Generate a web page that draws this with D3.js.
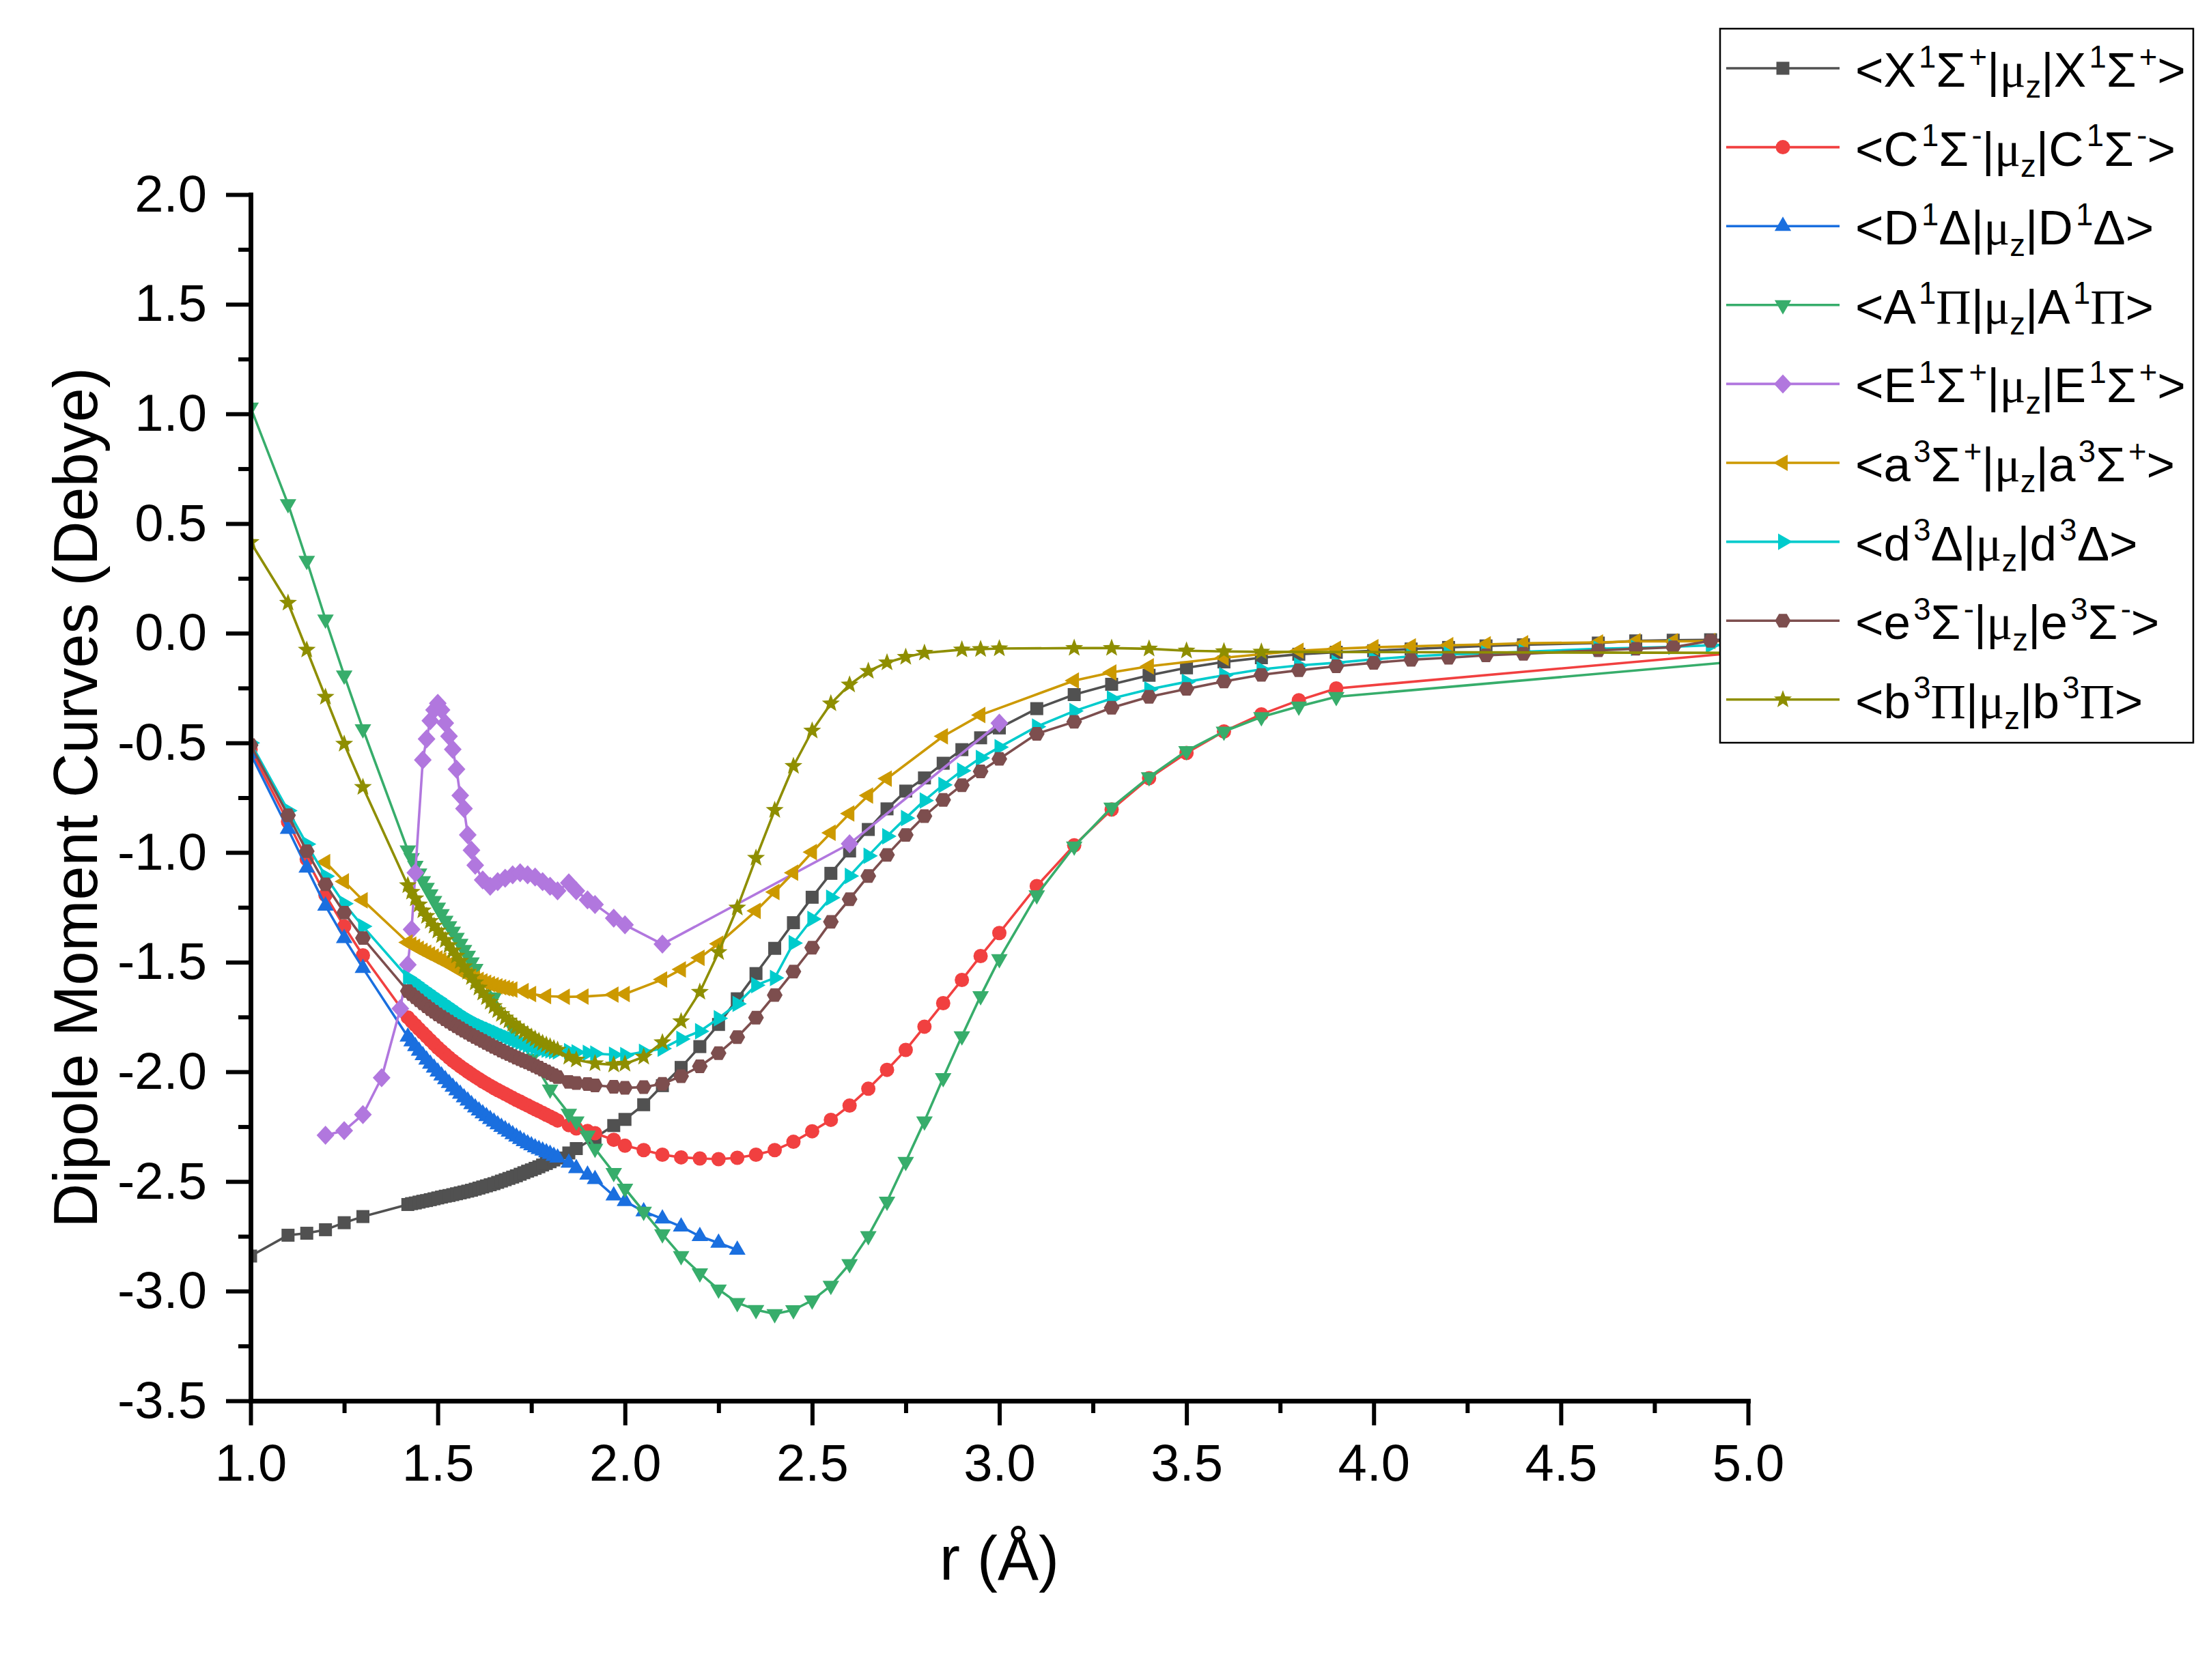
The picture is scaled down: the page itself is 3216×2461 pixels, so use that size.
<!DOCTYPE html>
<html><head><meta charset="utf-8">
<script src="https://cdn.jsdelivr.net/npm/d3@7"></script>
<style>body{margin:0;background:#fff}svg{display:block}</style>
</head><body>
<script>
// ---------------- DATA ----------------
const xTicks = [1.0,1.5,2.0,2.5,3.0,3.5,4.0,4.5,5.0];
const yTicks = [-3.5,-3.0,-2.5,-2.0,-1.5,-1.0,-0.5,0.0,0.5,1.0,1.5,2.0];

const X1Sp = [[1.0,-2.84],[1.1,-2.745],[1.15,-2.736],[1.2,-2.72],[1.25,-2.688],[1.3,-2.66],
[1.42,-2.605],[1.43,-2.601],[1.44,-2.598],[1.45,-2.594],[1.46,-2.59],[1.47,-2.587],[1.48,-2.583],[1.49,-2.579],[1.5,-2.575],[1.51,-2.571],[1.52,-2.567],[1.53,-2.564],[1.54,-2.56],[1.55,-2.556],[1.56,-2.552],[1.57,-2.548],[1.58,-2.544],[1.59,-2.54],[1.6,-2.535],[1.61,-2.53],[1.62,-2.525],[1.63,-2.52],[1.64,-2.515],[1.65,-2.51],[1.66,-2.504],[1.67,-2.498],[1.68,-2.492],[1.69,-2.486],[1.7,-2.48],[1.71,-2.474],[1.72,-2.467],[1.73,-2.46],[1.74,-2.453],[1.75,-2.447],[1.76,-2.44],[1.77,-2.433],[1.78,-2.425],[1.79,-2.418],[1.8,-2.41],[1.81,-2.402],[1.82,-2.393],
[1.85,-2.37],[1.87,-2.35],[1.92,-2.3],[1.97,-2.245],[2.0,-2.217],[2.05,-2.15],[2.1,-2.063],[2.15,-1.98],[2.2,-1.885],[2.25,-1.784],[2.3,-1.667],[2.35,-1.552],[2.4,-1.437],[2.45,-1.32],[2.5,-1.204],[2.55,-1.095],[2.6,-0.993],[2.65,-0.895],[2.7,-0.801],[2.75,-0.72],[2.8,-0.66],[2.85,-0.593],[2.9,-0.531],[2.95,-0.477],[3.0,-0.432],[3.1,-0.344],[3.2,-0.28],[3.3,-0.233],[3.4,-0.192],[3.5,-0.158],[3.6,-0.131],[3.7,-0.112],[3.8,-0.096],[3.9,-0.087],[4.0,-0.08],[4.1,-0.072],[4.2,-0.065],[4.3,-0.058],[4.4,-0.053],[4.6,-0.045],[4.7,-0.035],[4.8,-0.032],[4.9,-0.03],[5.0,-0.03]];

const C1Sm = [[1.0,-0.53],[1.1,-0.86],[1.15,-1.03],[1.2,-1.194],[1.25,-1.337],[1.3,-1.469],
[1.42,-1.752],[1.43,-1.77],[1.44,-1.787],[1.45,-1.805],[1.46,-1.822],[1.47,-1.839],[1.48,-1.856],[1.49,-1.873],[1.5,-1.89],[1.51,-1.905],[1.52,-1.92],[1.53,-1.935],[1.54,-1.949],[1.55,-1.962],[1.56,-1.975],[1.57,-1.987],[1.58,-1.999],[1.59,-2.011],[1.6,-2.022],[1.61,-2.033],[1.62,-2.044],[1.63,-2.054],[1.64,-2.064],[1.65,-2.074],[1.66,-2.083],[1.67,-2.092],[1.68,-2.101],[1.69,-2.11],[1.7,-2.119],[1.71,-2.128],[1.72,-2.136],[1.73,-2.145],[1.74,-2.153],[1.75,-2.162],[1.76,-2.17],[1.77,-2.179],[1.78,-2.187],[1.79,-2.196],[1.8,-2.204],[1.81,-2.213],[1.82,-2.222],
[1.85,-2.243],[1.87,-2.258],[1.9,-2.27],[1.92,-2.28],[1.97,-2.31],[2.0,-2.337],[2.05,-2.357],[2.1,-2.378],[2.15,-2.39],[2.2,-2.395],[2.25,-2.398],[2.3,-2.392],[2.35,-2.378],[2.4,-2.357],[2.45,-2.319],[2.5,-2.271],[2.55,-2.219],[2.6,-2.154],[2.65,-2.077],[2.7,-1.991],[2.75,-1.9],[2.8,-1.794],[2.85,-1.687],[2.9,-1.581],[2.95,-1.472],[3.0,-1.367],[3.1,-1.153],[3.2,-0.967],[3.3,-0.804],[3.4,-0.661],[3.5,-0.546],[3.6,-0.448],[3.7,-0.37],[3.8,-0.306],[3.9,-0.252],[5.0,-0.085]];

const D1D = [[1.0,-0.55],[1.1,-0.893],[1.15,-1.07],[1.2,-1.243],[1.25,-1.391],[1.3,-1.527],
[1.42,-1.84],[1.43,-1.862],[1.44,-1.884],[1.45,-1.905],[1.46,-1.925],[1.47,-1.945],[1.48,-1.964],[1.49,-1.982],[1.5,-2.0],[1.51,-2.018],[1.52,-2.035],[1.53,-2.052],[1.54,-2.069],[1.55,-2.085],[1.56,-2.101],[1.57,-2.117],[1.58,-2.132],[1.59,-2.148],[1.6,-2.163],[1.61,-2.177],[1.62,-2.19],[1.63,-2.203],[1.64,-2.216],[1.65,-2.228],[1.66,-2.24],[1.67,-2.252],[1.68,-2.263],[1.69,-2.274],[1.7,-2.285],[1.71,-2.296],[1.72,-2.307],[1.73,-2.317],[1.74,-2.327],[1.75,-2.336],[1.76,-2.345],[1.77,-2.353],[1.78,-2.36],[1.79,-2.368],[1.8,-2.375],[1.81,-2.384],[1.82,-2.392],
[1.85,-2.415],[1.87,-2.44],[1.9,-2.47],[1.92,-2.49],[1.97,-2.565],[2.0,-2.59],[2.05,-2.637],[2.1,-2.67],[2.15,-2.706],[2.2,-2.75],[2.25,-2.78],[2.3,-2.812]];

const A1P = [[1.0,1.03],[1.1,0.589],[1.15,0.331],[1.2,0.063],[1.25,-0.192],[1.3,-0.437],
[1.42,-0.99],[1.43,-1.025],[1.44,-1.06],[1.45,-1.095],[1.46,-1.13],[1.47,-1.16],[1.48,-1.19],[1.49,-1.22],[1.5,-1.25],[1.51,-1.28],[1.52,-1.31],[1.53,-1.335],[1.54,-1.36],[1.55,-1.388],[1.56,-1.415],[1.57,-1.443],[1.58,-1.47],[1.59,-1.5],[1.6,-1.53],
[1.65,-1.66],[1.7,-1.8],[1.75,-1.94],[1.8,-2.08],[1.85,-2.19],[1.87,-2.225],[1.9,-2.29],[1.92,-2.35],[1.97,-2.46],[2.0,-2.532],[2.05,-2.637],[2.1,-2.74],[2.15,-2.839],[2.2,-2.918],[2.25,-2.992],[2.3,-3.053],[2.35,-3.085],[2.4,-3.104],[2.45,-3.086],[2.5,-3.042],[2.55,-2.975],[2.6,-2.876],[2.65,-2.748],[2.7,-2.591],[2.75,-2.41],[2.8,-2.225],[2.85,-2.028],[2.9,-1.837],[2.95,-1.654],[3.0,-1.485],[3.1,-1.194],[3.2,-0.972],[3.3,-0.794],[3.4,-0.656],[3.5,-0.537],[3.6,-0.448],[3.7,-0.382],[3.8,-0.334],[3.9,-0.29],[5.0,-0.125]];

const E1Sp = [[1.2,-2.289],[1.25,-2.268],[1.3,-2.195],[1.35,-2.027],[1.4,-1.712],[1.42,-1.512],[1.43,-1.351],[1.44,-1.092],[1.46,-0.578],[1.47,-0.482],[1.48,-0.399],[1.49,-0.35],[1.5,-0.32],[1.51,-0.35],[1.52,-0.41],[1.53,-0.47],[1.54,-0.53],[1.55,-0.62],[1.56,-0.74],[1.57,-0.8],[1.58,-0.92],[1.59,-0.99],[1.6,-1.058],[1.62,-1.125],[1.64,-1.154],[1.66,-1.133],[1.68,-1.117],[1.7,-1.102],[1.72,-1.092],[1.74,-1.102],[1.76,-1.112],[1.78,-1.133],[1.8,-1.154],[1.82,-1.175],[1.85,-1.138],[1.87,-1.175],[1.9,-1.216],[1.92,-1.237],[1.97,-1.299],[2.0,-1.33],[2.1,-1.418],[2.6,-0.96],[3.0,-0.41]];

const a3Sp = [[1.2,-1.044],[1.25,-1.132],[1.3,-1.218],
[1.42,-1.41],[1.43,-1.42],[1.44,-1.43],[1.45,-1.439],[1.46,-1.448],[1.47,-1.457],[1.48,-1.465],[1.49,-1.474],[1.5,-1.483],[1.51,-1.491],[1.52,-1.5],[1.53,-1.51],[1.54,-1.52],[1.55,-1.53],[1.56,-1.54],[1.57,-1.549],[1.58,-1.558],[1.59,-1.566],[1.6,-1.574],[1.61,-1.581],[1.62,-1.588],[1.63,-1.594],[1.64,-1.6],[1.65,-1.605],[1.66,-1.61],[1.67,-1.614],[1.68,-1.618],[1.69,-1.622],[1.7,-1.625],
[1.73,-1.632],[1.75,-1.645],[1.79,-1.655],[1.84,-1.658],[1.89,-1.657],[1.97,-1.648],[2.0,-1.645],[2.1,-1.579],[2.15,-1.533],[2.2,-1.48],[2.25,-1.416],[2.35,-1.266],[2.4,-1.18],[2.45,-1.092],[2.5,-0.998],[2.55,-0.91],[2.6,-0.822],[2.65,-0.74],[2.7,-0.663],[2.85,-0.47],[2.95,-0.373],[3.2,-0.216],[3.3,-0.179],[3.4,-0.151],[3.6,-0.112],[3.8,-0.08],[3.9,-0.071],[4.0,-0.064],[4.1,-0.06],[4.2,-0.055],[4.3,-0.051],[4.4,-0.046],[4.6,-0.042],[4.7,-0.037],[4.8,-0.037],[4.9,-0.036],[5.0,-0.035]];

const d3D = [[1.0,-0.5],[1.1,-0.809],[1.15,-0.962],[1.2,-1.108],[1.25,-1.233],[1.3,-1.337],
[1.42,-1.57],[1.43,-1.582],[1.44,-1.594],[1.45,-1.607],[1.46,-1.619],[1.47,-1.631],[1.48,-1.643],[1.49,-1.655],[1.5,-1.666],[1.51,-1.678],[1.52,-1.69],[1.53,-1.702],[1.54,-1.714],[1.55,-1.726],[1.56,-1.737],[1.57,-1.748],[1.58,-1.758],[1.59,-1.767],[1.6,-1.776],[1.61,-1.785],[1.62,-1.793],[1.63,-1.801],[1.64,-1.808],[1.65,-1.816],[1.66,-1.823],[1.67,-1.831],[1.68,-1.838],[1.69,-1.845],[1.7,-1.852],[1.71,-1.859],[1.72,-1.865],[1.73,-1.871],[1.74,-1.877],[1.75,-1.882],[1.76,-1.887],[1.77,-1.891],[1.78,-1.895],[1.79,-1.899],[1.8,-1.902],[1.81,-1.905],[1.82,-1.907],
[1.85,-1.906],[1.87,-1.911],[1.9,-1.914],[1.92,-1.917],[1.97,-1.922],[2.0,-1.924],[2.05,-1.909],[2.1,-1.894],[2.15,-1.85],[2.2,-1.815],[2.25,-1.756],[2.3,-1.69],[2.35,-1.605],[2.4,-1.572],[2.45,-1.413],[2.5,-1.303],[2.55,-1.206],[2.6,-1.107],[2.65,-1.015],[2.7,-0.926],[2.75,-0.843],[2.8,-0.763],[2.85,-0.692],[2.9,-0.627],[2.95,-0.569],[3.0,-0.52],[3.1,-0.426],[3.2,-0.355],[3.3,-0.298],[3.4,-0.256],[3.5,-0.222],[3.6,-0.192],[3.7,-0.165],[3.8,-0.147],[3.9,-0.135],[4.0,-0.119],[4.1,-0.106],[4.2,-0.097],[4.3,-0.092],[4.4,-0.085],[4.6,-0.071],[4.7,-0.067],[4.8,-0.062],[4.9,-0.055],[5.0,-0.05]];

const e3Sm = [[1.0,-0.51],[1.1,-0.83],[1.15,-0.994],[1.2,-1.145],[1.25,-1.274],[1.3,-1.39],
[1.42,-1.632],[1.43,-1.646],[1.44,-1.66],[1.45,-1.674],[1.46,-1.688],[1.47,-1.701],[1.48,-1.714],[1.49,-1.726],[1.5,-1.738],[1.51,-1.749],[1.52,-1.76],[1.53,-1.771],[1.54,-1.782],[1.55,-1.792],[1.56,-1.802],[1.57,-1.812],[1.58,-1.822],[1.59,-1.832],[1.6,-1.841],[1.61,-1.85],[1.62,-1.859],[1.63,-1.868],[1.64,-1.877],[1.65,-1.886],[1.66,-1.894],[1.67,-1.903],[1.68,-1.911],[1.69,-1.919],[1.7,-1.927],[1.71,-1.935],[1.72,-1.942],[1.73,-1.95],[1.74,-1.957],[1.75,-1.965],[1.76,-1.973],[1.77,-1.981],[1.78,-1.99],[1.79,-1.998],[1.8,-2.007],[1.81,-2.015],[1.82,-2.024],
[1.85,-2.046],[1.87,-2.051],[1.9,-2.056],[1.92,-2.062],[1.97,-2.068],[2.0,-2.073],[2.05,-2.07],[2.1,-2.055],[2.15,-2.02],[2.2,-1.975],[2.25,-1.915],[2.3,-1.842],[2.35,-1.753],[2.4,-1.65],[2.45,-1.543],[2.5,-1.434],[2.55,-1.316],[2.6,-1.213],[2.65,-1.107],[2.7,-1.011],[2.75,-0.92],[2.8,-0.834],[2.85,-0.76],[2.9,-0.693],[2.95,-0.63],[3.0,-0.573],[3.1,-0.459],[3.2,-0.404],[3.3,-0.34],[3.4,-0.29],[3.5,-0.254],[3.6,-0.22],[3.7,-0.19],[3.8,-0.169],[3.9,-0.151],[4.0,-0.135],[4.1,-0.121],[4.2,-0.112],[4.3,-0.101],[4.4,-0.094],[4.6,-0.078],[4.7,-0.071],[4.8,-0.064],[4.9,-0.035],[5.0,-0.03]];

const b3P = [[1.0,0.415],[1.1,0.138],[1.15,-0.076],[1.2,-0.291],[1.25,-0.505],[1.3,-0.702],
[1.42,-1.15],[1.43,-1.18],[1.44,-1.21],[1.45,-1.238],[1.46,-1.265],[1.47,-1.29],[1.48,-1.313],[1.49,-1.335],[1.5,-1.357],[1.51,-1.378],[1.52,-1.4],[1.53,-1.424],[1.54,-1.448],[1.55,-1.471],[1.56,-1.495],[1.57,-1.52],[1.58,-1.545],[1.59,-1.569],[1.6,-1.593],[1.61,-1.617],[1.62,-1.64],[1.63,-1.661],[1.64,-1.682],[1.65,-1.701],[1.66,-1.72],[1.67,-1.737],[1.68,-1.753],[1.69,-1.767],[1.7,-1.781],[1.71,-1.794],[1.72,-1.806],[1.73,-1.818],[1.74,-1.829],[1.75,-1.84],[1.76,-1.85],[1.77,-1.86],[1.78,-1.869],[1.79,-1.877],[1.8,-1.885],[1.81,-1.893],[1.82,-1.9],
[1.85,-1.932],[1.87,-1.945],[1.92,-1.962],[1.97,-1.968],[2.0,-1.964],[2.05,-1.932],[2.1,-1.866],[2.15,-1.77],[2.2,-1.636],[2.25,-1.455],[2.3,-1.252],[2.35,-1.025],[2.4,-0.807],[2.45,-0.606],[2.5,-0.445],[2.55,-0.321],[2.6,-0.235],[2.65,-0.173],[2.7,-0.134],[2.75,-0.109],[2.8,-0.09],[2.9,-0.075],[2.95,-0.073],[3.0,-0.07],[3.2,-0.068],[3.3,-0.068],[3.4,-0.071],[3.5,-0.08],[3.6,-0.083],[3.7,-0.085],[5.0,-0.09]];

const seriesData = [X1Sp, C1Sm, D1D, A1P, E1Sp, a3Sp, d3D, e3Sm, b3P];
const seriesLabels = [
  "<X^{1}Σ^{+}|μ_{z}|X^{1}Σ^{+}>",
  "<C^{1}Σ^{-}|μ_{z}|C^{1}Σ^{-}>",
  "<D^{1}Δ|μ_{z}|D^{1}Δ>",
  "<A^{1}Π|μ_{z}|A^{1}Π>",
  "<E^{1}Σ^{+}|μ_{z}|E^{1}Σ^{+}>",
  "<a^{3}Σ^{+}|μ_{z}|a^{3}Σ^{+}>",
  "<d^{3}Δ|μ_{z}|d^{3}Δ>",
  "<e^{3}Σ^{-}|μ_{z}|e^{3}Σ^{-}>",
  "<b^{3}Π|μ_{z}|b^{3}Π>"
];
const xTitle = "r (Å)";
const yTitle = "Dipole Moment Curves (Debye)";

// ---------------- STYLE ----------------
const colors = ["#515151","#F14040","#1A6FDF","#37AD6B","#B177DE","#CC9900","#00CBCC","#7D4E4E","#8E8E00"];
const shapes = ["square","circle","triUp","triDown","diamond","triLeft","triRight","hexagon","star"];
const SANS = "'Liberation Sans', Arial, sans-serif";
const SERIF = "'Liberation Serif', 'Times New Roman', serif";

function markerPath(shape){
  const s3 = Math.sqrt(3)/2;
  const pts = (arr)=>"M"+arr.map(p=>p[0].toFixed(2)+","+p[1].toFixed(2)).join("L")+"Z";
  const R = 14;
  switch(shape){
    case "square": return pts([[-9.5,-9.5],[9.5,-9.5],[9.5,9.5],[-9.5,9.5]]);
    case "circle": return d3.symbol(d3.symbolCircle, Math.PI*10.5*10.5)();
    case "triUp": return pts([[0,-R],[R*s3,R/2],[-R*s3,R/2]]);
    case "triDown": return pts([[0,R],[R*s3,-R/2],[-R*s3,-R/2]]);
    case "triLeft": return pts([[-R,0],[R/2,-R*s3],[R/2,R*s3]]);
    case "triRight": return pts([[R,0],[-R/2,-R*s3],[-R/2,R*s3]]);
    case "diamond": return pts([[0,-14],[13,0],[0,14],[-13,0]]);
    case "hexagon": { const a=[]; for(let i=0;i<6;i++){const t=Math.PI/3*i; a.push([11.5*Math.cos(t),11.5*Math.sin(t)]);} return pts(a);}
    case "star": { const a=[]; for(let i=0;i<10;i++){const t=-Math.PI/2+Math.PI/5*i; const r=i%2?5.8:13.8; a.push([r*Math.cos(t),r*Math.sin(t)]);} return pts(a);}
  }
}

// ---------------- CHART ----------------
const W=3216, H=2461;
const svg = d3.select("body").append("svg").attr("width",W).attr("height",H).attr("viewBox",`0 0 ${W} ${H}`);
svg.append("rect").attr("width",W).attr("height",H).attr("fill","#fff");

const x = d3.scaleLinear().domain([1,5]).range([367,2560]);
const y = d3.scaleLinear().domain([-3.5,2]).range([2052,285]);

svg.append("defs").append("clipPath").attr("id","plotclip")
  .append("rect").attr("x",x(1)).attr("y",y(2)-20).attr("width",x(5)-x(1)+30).attr("height",y(-3.5)-y(2)+20);

const plot = svg.append("g").attr("clip-path","url(#plotclip)");
const line = d3.line().x(d=>x(d[0])).y(d=>y(d[1]));

seriesData.forEach((data,i)=>{
  const g = plot.append("g");
  g.append("path").attr("d",line(data)).attr("fill","none").attr("stroke",colors[i]).attr("stroke-width",3.6).attr("stroke-linejoin","round");
  const mp = markerPath(shapes[i]);
  g.selectAll("path.m").data(data).join("path").attr("class","m")
    .attr("d",mp).attr("transform",d=>`translate(${x(d[0])},${y(d[1])})`).attr("fill",colors[i]);
});

// axes
const minorY = d3.range(-3.5,2.0001,0.25).filter(v=>Math.abs(v*2-Math.round(v*2))>1e-6);
const minorX = d3.range(1,5.0001,0.25).filter(v=>Math.abs(v*2-Math.round(v*2))>1e-6);
const fmt = d=>d.toFixed(1);

function styleAxis(g){
  g.selectAll("path.domain").attr("stroke","#000").attr("stroke-width",6.5).attr("stroke-linecap","square");
  g.selectAll(".tick line").attr("stroke","#000").attr("stroke-width",6);
  g.selectAll(".tick text").attr("fill","#000").attr("font-family",SANS).attr("font-size",76);
}
svg.append("g").attr("transform",`translate(${x(1)},0)`)
  .call(d3.axisLeft(y).tickValues(minorY).tickSize(18).tickSizeOuter(0).tickFormat(""))
  .call(styleAxis);
svg.append("g").attr("transform",`translate(${x(1)},0)`)
  .call(d3.axisLeft(y).tickValues(yTicks).tickSize(36).tickSizeOuter(0).tickPadding(28).tickFormat(fmt))
  .call(styleAxis);
svg.append("g").attr("transform",`translate(0,${y(-3.5)})`)
  .call(d3.axisBottom(x).tickValues(minorX).tickSize(18).tickSizeOuter(0).tickFormat(""))
  .call(styleAxis);
svg.append("g").attr("transform",`translate(0,${y(-3.5)})`)
  .call(d3.axisBottom(x).tickValues(xTicks).tickSize(36).tickSizeOuter(0).tickPadding(27).tickFormat(fmt))
  .call(styleAxis);

// axis titles
svg.append("text").attr("x",(x(1)+x(5))/2).attr("y",2314).attr("text-anchor","middle")
  .attr("font-family",SANS).attr("font-size",90).attr("fill","#000").text(xTitle);
svg.append("text").attr("transform",`translate(142,${(y(2)+y(-3.5))/2}) rotate(-90)`).attr("text-anchor","middle")
  .attr("font-family",SANS).attr("font-size",90).attr("fill","#000").text(yTitle);

// legend
const lg = svg.append("g");
lg.append("rect").attr("x",2519).attr("y",42).attr("width",693).attr("height",1046)
  .attr("fill","#fff").attr("stroke","#000").attr("stroke-width",2.5);

function richText(sel, s, F){
  const re = /\^\{([^}]*)\}|_\{([^}]*)\}|([^\^_]+)/g;
  let cur = 0, m;
  while((m = re.exec(s))){
    let str, off, size, dx = 0;
    if(m[1]!==undefined){str=m[1]; off=-0.40*F; size=0.64*F; dx = 0.06*F;}
    else if(m[2]!==undefined){str=m[2]; off=0.23*F; size=0.64*F;}
    else {str=m[3]; off=0; size=F;}
    const runs = str.match(/[Πμ]+|[^Πμ]+/g) || [];
    runs.forEach((run,k)=>{
      const t = sel.append("tspan").attr("font-size",size)
        .attr("font-family", /[Πμ]/.test(run)?SERIF:SANS).text(run);
      if(k===0){ t.attr("dy", off-cur); if(dx) t.attr("dx",dx); cur = off; }
    });
  }
}

seriesLabels.forEach((lab,i)=>{
  const cy = 100 + i*115.6;
  lg.append("line").attr("x1",2528).attr("x2",2694).attr("y1",cy).attr("y2",cy)
    .attr("stroke",colors[i]).attr("stroke-width",3.6);
  lg.append("path").attr("d",markerPath(shapes[i])).attr("transform",`translate(2611,${cy})`).attr("fill",colors[i]);
  const t = lg.append("text").attr("x",2717).attr("y",cy+27).attr("fill","#000").attr("font-family",SANS).attr("font-size",71);
  richText(t, lab, 71);
});
</script>
</body></html>
